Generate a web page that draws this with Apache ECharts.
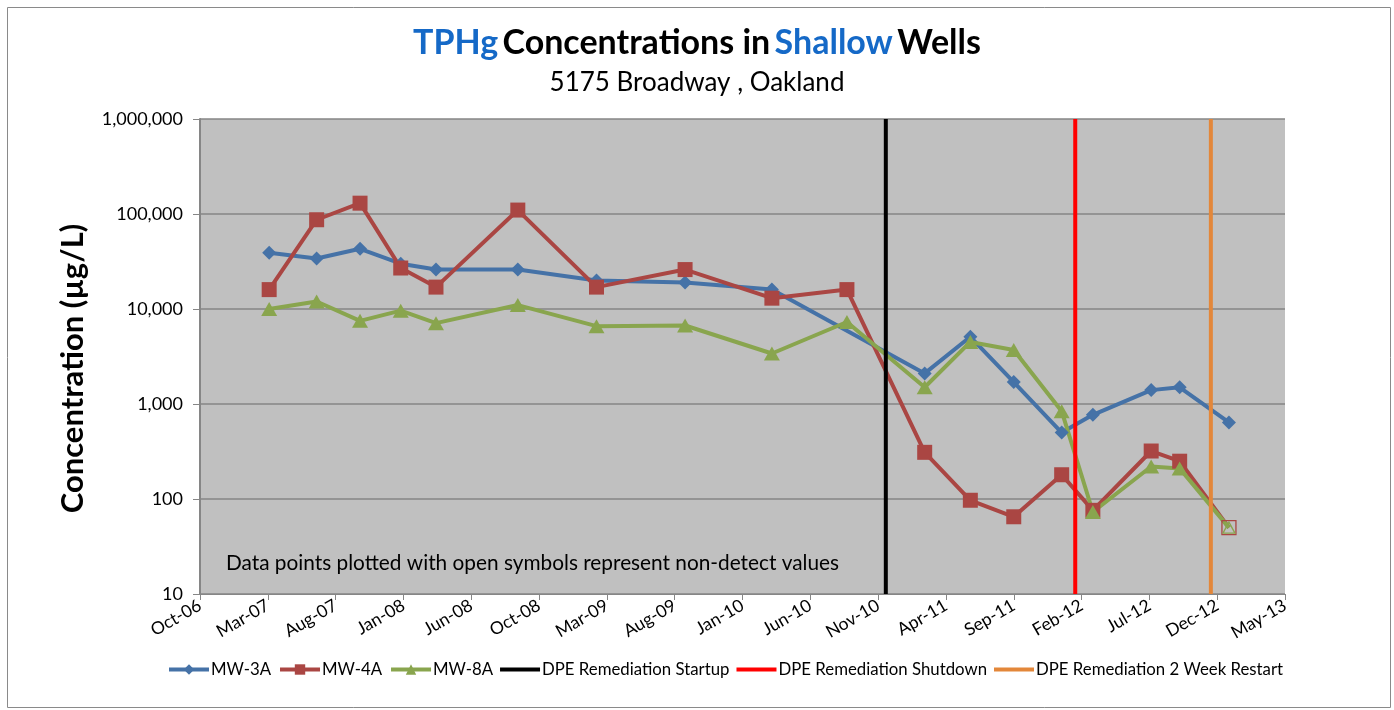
<!DOCTYPE html>
<html>
<head>
<meta charset="utf-8">
<script src="https://cdn.jsdelivr.net/npm/echarts@6/dist/echarts.min.js"></script>
<style>
html,body{margin:0;padding:0;background:#fff;}
#chart{width:1394px;height:710px;}
</style>
</head>
<body>
<div id="chart"></div>
<script>
// ---- data ----
const sampleDates = ['2007-03-12','2007-06-25','2007-09-29','2007-12-28','2008-03-15','2008-09-12',
  '2009-03-05','2009-09-17','2010-03-28','2010-09-10','2011-03-01','2011-06-10','2011-09-14',
  '2011-12-29','2012-03-07','2012-07-14','2012-09-15','2013-01-02'];
const mw3a = [39000,34000,43000,30000,26000,26000,20000,19000,16000,null,2100,5100,1700,500,770,1400,1500,640];
const mw4a = [16000,87000,130000,27000,17000,110000,17000,26000,13000,16000,310,97,65,180,76,320,250,50];
const mw8a = [10000,12000,7500,9600,7100,11000,6600,6700,3400,7300,1500,4500,3700,840,73,220,210,50];
const mw4aNonDetect = [false,false,false,false,false,false,false,false,false,false,false,false,false,false,false,false,false,true];
const mw8aNonDetect = [false,false,false,false,false,false,false,false,false,false,false,false,false,false,false,false,false,true];
const startupDate = '2010-12-05';
const shutdownDate = '2012-01-28';
const restartDate = '2012-11-23';
const yTicks = [10,100,1000,10000,100000,1000000];
const axisStart = '2006-10-10';   // x axis origin (label Oct-06)
const axisDays = 2400;            // x axis span
const tickDays = 150;             // x tick spacing
const monthNames = ['Jan','Feb','Mar','Apr','May','Jun','Jul','Aug','Sep','Oct','Nov','Dec'];

// ---- helpers ----
const DAY = 86400000;
function toMs(s){const p=s.split('-');return Date.UTC(+p[0],+p[1]-1,+p[2]);}
const startMs = toMs(axisStart);
function dayOf(s){return (toMs(s)-startMs)/DAY;}
function fmtDay(v){const d=new Date(startMs+v*DAY);return monthNames[d.getUTCMonth()]+'-'+String(d.getUTCFullYear()).slice(2);}
function build(vals, nd, color, openSize){
  return sampleDates.map((dt,i)=>{
    if(vals[i]==null) return [dayOf(dt), null];
    if(nd && nd[i]) return {value:[dayOf(dt),vals[i]], symbolSize:openSize,
      itemStyle:{color:'rgba(0,0,0,0)',borderColor:color,borderWidth:1.3}};
    return [dayOf(dt),vals[i]];
  });
}
function vline(d){return [[dayOf(d),yTicks[0]],[dayOf(d),yTicks[yTicks.length-1]]];}

const FONT = 'Lato';
const BAR_ICON = 'path://M0,0h40v4h-40z';
const chart = echarts.init(document.getElementById('chart'));
const option = {
  backgroundColor:'#fff',
  animation:false,
  textStyle:{fontFamily:FONT},
  title:{
    left:'center', top:21,
    text:'{b|TPHg} {k|Concentrations in} {b|Shallow} {k|Wells}',
    subtext:'5175 Broadway , Oakland',
    itemGap:10,
    textStyle:{rich:{
      b:{color:'#1569C7',fontSize:34,fontWeight:'bold',fontFamily:FONT},
      k:{color:'#000',fontSize:34,fontWeight:'bold',fontFamily:FONT}
    }},
    subtextStyle:{color:'#000',fontSize:26,fontFamily:FONT}
  },
  grid:{left:200,right:109,top:119,bottom:116,show:true,backgroundColor:'#C0C0C0',borderWidth:0,outerBoundsMode:'none'},
  legend:{
    top:656, left:162, itemGap:7, itemWidth:40, itemHeight:13,
    lineStyle:{width:4},
    textStyle:{fontSize:16.8,color:'#000',fontFamily:FONT,padding:[0,0,0,-3]},
    data:['MW-3A','MW-4A','MW-8A',
      {name:'DPE Remediation Startup',icon:BAR_ICON},
      {name:'DPE Remediation Shutdown',icon:BAR_ICON},
      {name:'DPE Remediation 2 Week Restart',icon:BAR_ICON}]
  },
  xAxis:{
    type:'value', min:0, max:axisDays, interval:tickDays,
    axisLine:{show:true,lineStyle:{color:'#868686',width:1}},
    axisTick:{show:true,length:6,inside:false,lineStyle:{color:'#868686'}},
    splitLine:{show:false},
    axisLabel:{rotate:30,fontSize:17.5,color:'#000',margin:10,formatter:fmtDay,fontFamily:FONT,showMinLabel:true,showMaxLabel:true}
  },
  yAxis:{
    type:'log', logBase:10, min:yTicks[0], max:yTicks[yTicks.length-1],
    name:'Concentration (µg/L)', nameLocation:'middle', nameGap:112,
    nameTextStyle:{fontSize:31,fontWeight:'bold',color:'#000',fontFamily:FONT,padding:[0,24,0,0]},
    axisLine:{show:true,lineStyle:{color:'#868686',width:2}},
    axisTick:{show:true,length:7,lineStyle:{color:'#868686'}},
    splitLine:{show:true,lineStyle:{color:'#868686',width:1.5}},
    axisLabel:{fontSize:18,color:'#000',margin:17,fontFamily:FONT,
      formatter:v=>Number(v).toLocaleString('en-US')}
  },
  graphic:[
    {type:'rect',left:5,top:5,shape:{width:1383,height:700},style:{fill:'none',stroke:'#8A8A8A',lineWidth:1},silent:true,z:-1},
    {type:'text',left:226,top:553,style:{text:'Data points plotted with open symbols represent non-detect values',fontSize:20.8,fill:'#000',fontFamily:FONT},z:100}
  ],
  series:[
    {name:'MW-3A',type:'line',data:build(mw3a,null,'#4572A7',14),connectNulls:true,
      symbol:'diamond',symbolSize:[14,14],color:'#4572A7',lineStyle:{width:4,color:'#4572A7'},itemStyle:{color:'#4572A7'}},
    {name:'MW-4A',type:'line',data:build(mw4a,mw4aNonDetect,'#AA4643',14),
      symbol:'rect',symbolSize:15,color:'#AA4643',lineStyle:{width:4,color:'#AA4643'},itemStyle:{color:'#AA4643'}},
    {name:'MW-8A',type:'line',data:build(mw8a,mw8aNonDetect,'#89A54E',[12,11]),
      symbol:'triangle',symbolSize:[16,14],color:'#89A54E',lineStyle:{width:4,color:'#89A54E'},itemStyle:{color:'#89A54E'}},
    {name:'DPE Remediation Startup',type:'line',data:vline(startupDate),symbol:'none',color:'#000',itemStyle:{color:'#000'},lineStyle:{width:4,color:'#000'}},
    {name:'DPE Remediation Shutdown',type:'line',data:vline(shutdownDate),symbol:'none',color:'#FF0000',itemStyle:{color:'#FF0000'},lineStyle:{width:4,color:'#FF0000'}},
    {name:'DPE Remediation 2 Week Restart',type:'line',data:vline(restartDate),symbol:'none',color:'#E3873A',itemStyle:{color:'#E3873A'},lineStyle:{width:4,color:'#E3873A'}}
  ]
};
chart.setOption(option);
</script>
</body>
</html>
